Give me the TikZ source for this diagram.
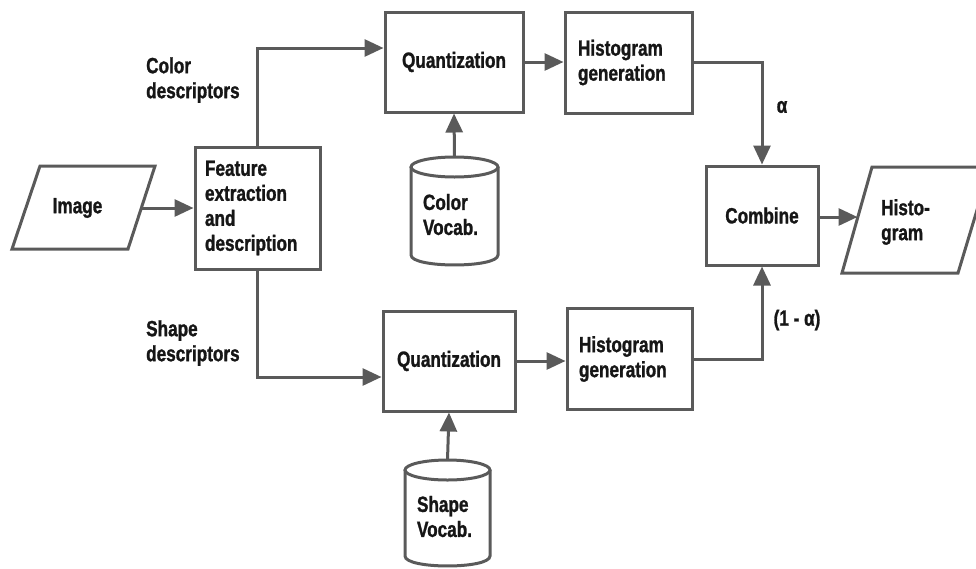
\documentclass[tikz,border=0pt]{standalone}
\usepackage{fontspec}
\setmainfont{Liberation Sans}[FakeStretch=0.78, BoldFeatures={FakeStretch=0.78, FakeBold=1.2}]
\usetikzlibrary{arrows.meta}
\definecolor{edge}{HTML}{5A5A5A}
\definecolor{ink}{HTML}{161616}
\tikzset{
  lbl/.style={font=\bfseries\fontsize{22}{25}\selectfont, text=ink, inner sep=0pt},
  box/.style={lbl, draw=edge, line width=3pt, fill=white},
  ghost/.style={lbl, draw=none},
  flow/.style={draw=edge, line width=3pt, -{Triangle[length=19pt,width=17pt]}},
  wire/.style={draw=edge, line width=3pt},
}
\begin{document}
\begin{tikzpicture}[x=1pt,y=-1pt]
\useasboundingbox (0,0) rectangle (976,568);
\clip (0,0) rectangle (976,568);

% input and output parallelograms
\draw[wire, line join=miter] (40,166) -- (155,166) -- (128,249) -- (12,249) -- cycle;
\node[ghost, minimum width=117pt, minimum height=83pt] (img) at (83.5,208) {\hspace*{-12pt}Image};
\draw[wire, line join=miter] (872,167) -- (990,167) -- (958,273) -- (842,273) -- cycle;
\coordinate (hin) at (857.5,217);
\node[ghost, anchor=west, align=left] (histo) at (881,222) {Histo-\\gram};

% processing blocks
\node[box, minimum width=125pt, minimum height=122pt, text width=105pt, align=left] (feat) at (257.5,208)
  {Feature\\extraction\\and\\description};
\node[box, minimum width=138pt, minimum height=100pt] (q1) at (454,62) {Quantization};
\node[box, minimum width=127pt, minimum height=101pt, text width=101pt, align=left] (h1) at (628.5,62.5)
  {Histogram\\generation};
\node[box, minimum width=132pt, minimum height=100pt] (q2) at (449,361) {Quantization};
\node[box, minimum width=125pt, minimum height=101pt, text width=101pt, align=left] (h2) at (629.5,359)
  {Histogram\\generation};
\node[box, minimum width=112pt, minimum height=99pt] (comb) at (762,215.5) {Combine};

% vocabulary stores (cylinders)
\draw[wire] (454.5,167) ellipse [x radius=43.5pt, y radius=10pt];
\draw[wire] (411,167) -- (411,255) .. controls (411,268.3) and (498,268.3) .. (498,255) -- (498,167);
\node[ghost, minimum width=87pt, minimum height=108pt, text width=63pt, align=left] (cv) at (454.5,211)
  {\\[-2pt]Color\\Vocab.};
\draw[wire] (447.5,470) ellipse [x radius=42.5pt, y radius=10pt];
\draw[wire] (405,470) -- (405,556) .. controls (405,569.3) and (490,569.3) .. (490,556) -- (490,470);
\node[ghost, minimum width=85pt, minimum height=106pt, text width=61pt, align=left] (sv) at (447.5,513)
  {\\[-2pt]Shape\\Vocab.};

% connectors
\draw[flow] (img.east) -- (feat.west);
\draw[flow] (feat.north) |- ([yshift=14pt]q1.west);
\draw[flow] (feat.south) |- ([yshift=-16pt]q2.west);
\draw[flow] (q1.east) -- (h1.west |- q1.east);
\draw[flow] (q2.east) -- (h2.west |- q2.east);
\draw[flow] (cv.north) -- (q1.south);
\draw[flow] (sv.north) -- (q2.south);
\draw[flow] (h1.east |- q1.east) -| (comb.north);
\draw[flow] (h2.east) -| (comb.south);
\draw[flow] (comb.east |- hin) -- (hin);

% branch labels
\node[ghost, anchor=west, align=left] (lc) at (146,80) {Color\\descriptors};
\node[ghost, anchor=west, align=left] (ls) at (146,343) {Shape\\descriptors};
\node[ghost] (la) at (782,107) {α};
\node[ghost] (lb) at (797,320) {(1 - α)};
\end{tikzpicture}
\end{document}
